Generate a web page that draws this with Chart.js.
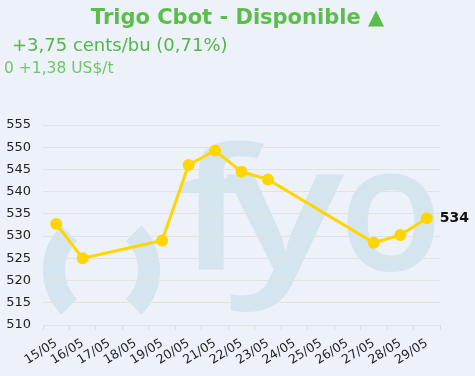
<!DOCTYPE html>
<html>
<head>
<meta charset="utf-8">
<script src="https://cdn.jsdelivr.net/npm/chart.js@4/dist/chart.umd.min.js"></script>
<style>
  html, body { margin: 0; padding: 0; background: #edf1f9; }
  #wrap { position: relative; width: 475px; height: 376px; overflow: hidden; }
  #chart { position: absolute; left: 0; top: 0; }
  .txt { position: absolute; font-family: "DejaVu Sans", Verdana, sans-serif; white-space: nowrap; }
  #title { top: 5px; left: 0; width: 475px; text-align: center; font-size: 21px; font-weight: bold; color: #5cbd4b; }
  #sub1 { top: 34px; left: 12px; font-size: 18px; color: #52b748; }
  #sub2 { top: 59px; left: 4px; font-size: 15.5px; color: #6fc763; }
</style>
</head>
<body>
<div id="wrap">
  <canvas id="chart" width="475" height="376"></canvas>
  <div class="txt" id="title">Trigo Cbot - Disponible ▲</div>
  <div class="txt" id="sub1">+3,75 cents/bu (0,71%)</div>
  <div class="txt" id="sub2">0 +1,38 US$/t</div>
</div>
<script>
"use strict"

// days shown on the x axis
const labels = [
  "15/05", "16/05", "17/05", "18/05", "19/05", "20/05", "21/05", "22/05",
  "23/05", "24/05", "25/05", "26/05", "27/05", "28/05", "29/05",
];

// price in cents/bu, null where there was no quote
const prices = [
  532.75, 525, null, null, 529, 546, 549.25, 544.5,
  542.75, null, null, null, 528.5, 530.25, 534,
];

const lastLabel = "534";

// draw one glyph stretched to a given width
function fitGlyph(ctx, ch, x, base, w) {
  const m = ctx.measureText(ch).width;
  ctx.save();
  ctx.translate(x, base);
  ctx.scale(w / m, 1);
  ctx.fillText(ch, 0, 0);
  ctx.restore();
}

// light logo behind the grid
const watermark = {
  id: "watermark",
  beforeDraw(chart) {
    const ctx = chart.ctx;
    ctx.save();
    ctx.strokeStyle = "#d4e5ef";
    ctx.fillStyle = "#d4e5ef";
    ctx.lineWidth = 22;
    ctx.beginPath();
    ctx.arc(106, 270, 52, Math.PI * 0.75, Math.PI * 1.25);
    ctx.stroke();
    ctx.beginPath();
    ctx.arc(97, 270, 52, -Math.PI * 0.25, Math.PI * 0.25);
    ctx.stroke();
    ctx.textBaseline = "alphabetic";
    ctx.font = "600 168px 'Open Sans'";
    fitGlyph(ctx, "f", 176, 270, 78);
    ctx.font = "600 176px 'Open Sans'";
    fitGlyph(ctx, "y", 226, 270, 118);
    fitGlyph(ctx, "o", 339, 270, 104);
    ctx.restore();
  }
};

// value written next to the last point
const endLabel = {
  id: "endLabel",
  afterDatasetsDraw(chart) {
    const meta = chart.getDatasetMeta(0);
    const pt = meta.data[meta.data.length - 1];
    const ctx = chart.ctx;
    ctx.save();
    ctx.font = "bold 14px 'DejaVu Sans'";
    ctx.fillStyle = "#111";
    ctx.textBaseline = "middle";
    ctx.fillText(lastLabel, pt.x + 13, pt.y);
    ctx.restore();
  }
};

const data = {
  labels: labels,
  datasets: [{
    data: prices,
    borderColor: "#ffd600",
    backgroundColor: "#ffd600",
    borderWidth: 3,
    pointRadius: 4.5,
    pointHoverRadius: 4.5,
    spanGaps: true,
    tension: 0,
  }]
};

const config = {
  type: "line",
  data: data,
  plugins: [watermark, endLabel],
  options: {
    responsive: false,
    animation: false,
    layout: { padding: { top: 125, right: 35, left: 0, bottom: 0 } },
    plugins: { legend: { display: false }, tooltip: { enabled: false } },
    scales: {
      x: {
        offset: true,
        grid: { offset: true, drawOnChartArea: false, color: "#dcdcdc", tickLength: 5 },
        border: { display: false },
        ticks: {
          minRotation: 32, maxRotation: 32, autoSkip: false,
          color: "#222", padding: 6,
          font: { family: "DejaVu Sans", size: 12.5 },
        },
        afterFit(scale) { scale.height = 51; },
      },
      y: {
        min: 510, max: 555,
        grid: { color: "#e2e2e2", drawTicks: false },
        border: { display: false },
        ticks: {
          stepSize: 5, color: "#222", padding: 12,
          font: { family: "DejaVu Sans", size: 13 },
        },
        afterFit(scale) { scale.width = 43; },
      }
    }
  }
};

const chart = new Chart(document.querySelector("#chart"), config);
</script>
</body>
</html>
